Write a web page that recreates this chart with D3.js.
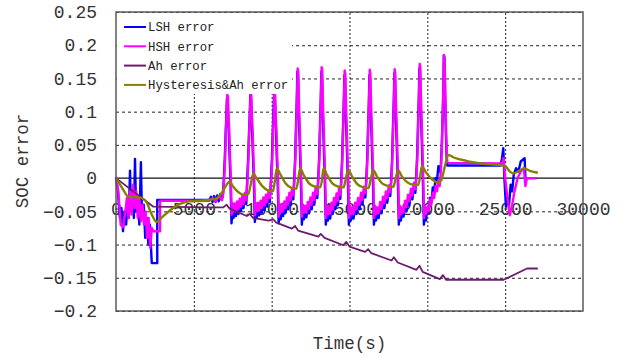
<!DOCTYPE html>
<html>
<head>
<meta charset="utf-8">
<script src="https://cdn.jsdelivr.net/npm/d3@7"></script>
<style>
  html, body { margin: 0; padding: 0; background: #fff; }
  svg { display: block; }
</style>
</head>
<body>
<svg id="chart" width="621" height="358"></svg>
<script>
const xTicks = [0, 5000, 10000, 15000, 20000, 25000, 30000];
const yTicks = [-0.2, -0.15, -0.1, -0.05, 0, 0.05, 0.1, 0.15, 0.2, 0.25];
const seriesNames = ["LSH error", "HSH error", "Ah error", "Hysteresis&Ah error"];

// [time (s), SOC error]
const lshErr = [
  [0, 0.0], [120, -0.02], [250, -0.06], [350, -0.045], [450, -0.08], [550, -0.05], [650, -0.07], [750, -0.035],
  [820, -0.06], [900, 0.011], [960, -0.05], [1060, -0.02], [1150, -0.06], [1220, 0.029], [1290, -0.05], [1400, -0.035],
  [1500, -0.07], [1600, 0.024], [1670, -0.06], [1780, -0.04], [1880, -0.09], [1980, -0.06], [2080, -0.1], [2180, -0.07],
  [2280, -0.12], [2300, -0.128], [2650, -0.128], [2650, -0.033], [6000, -0.033], [6100, -0.028], [6200, -0.036],
  [6300, -0.027], [6400, -0.036], [6500, -0.026], [6600, -0.035], [6700, -0.024], [6800, -0.033], [6880, -0.022],
  [6930, 0.0], [6990, 0.03], [7040, 0.065], [7090, 0.095], [7130, 0.12], [7170, 0.116], [7210, 0.09], [7260, 0.06],
  [7310, 0.025], [7360, -0.01], [7420, -0.068], [7490, -0.045], [7550, -0.06],
  [7620, -0.045], [7700, -0.057], [7780, -0.042], [7860, -0.054], [7950, -0.038], [8030, -0.05], [8110, -0.033],
  [8190, -0.045], [8280, -0.028], [8370, -0.039],
  [8430, 0.0], [8490, 0.03], [8540, 0.065], [8590, 0.095], [8630, 0.125], [8670, 0.12], [8710, 0.09], [8760, 0.06],
  [8810, 0.025], [8860, -0.01], [8920, -0.066], [8990, -0.045], [9050, -0.06],
  [9120, -0.044], [9200, -0.056], [9290, -0.041], [9370, -0.052], [9460, -0.036], [9540, -0.048], [9630, -0.031],
  [9710, -0.043], [9800, -0.025], [9880, -0.036],
  [9960, 0.0], [10020, 0.03], [10070, 0.07], [10120, 0.1], [10160, 0.132], [10200, 0.127], [10240, 0.095],
  [10290, 0.06], [10340, 0.025], [10390, -0.01], [10450, -0.068], [10520, -0.046], [10580, -0.062],
  [10650, -0.047], [10730, -0.057], [10810, -0.042], [10890, -0.052], [10980, -0.036], [11060, -0.047],
  [11140, -0.029], [11220, -0.04], [11310, -0.021], [11390, -0.032],
  [11450, 0.0], [11510, 0.03], [11560, 0.075], [11610, 0.115], [11650, 0.16], [11690, 0.155], [11730, 0.11],
  [11780, 0.07], [11830, 0.03], [11880, -0.01], [11940, -0.07], [12010, -0.048], [12070, -0.062],
  [12150, -0.049], [12230, -0.059], [12320, -0.043], [12400, -0.053], [12490, -0.036], [12570, -0.047],
  [12660, -0.029], [12740, -0.04], [12830, -0.019], [12930, -0.03],
  [12990, 0.0], [13050, 0.03], [13100, 0.075], [13150, 0.115], [13190, 0.16], [13230, 0.155], [13270, 0.11],
  [13320, 0.07], [13370, 0.03], [13420, -0.01], [13480, -0.07], [13550, -0.048], [13610, -0.064],
  [13680, -0.051], [13760, -0.061], [13840, -0.044], [13920, -0.054], [14000, -0.037], [14080, -0.047],
  [14170, -0.03], [14250, -0.041], [14330, -0.021], [14410, -0.031],
  [14470, 0.0], [14530, 0.03], [14580, 0.075], [14630, 0.11], [14670, 0.155], [14710, 0.15], [14750, 0.105],
  [14800, 0.07], [14850, 0.03], [14900, -0.01], [14960, -0.07], [15030, -0.048], [15090, -0.064],
  [15170, -0.051], [15260, -0.061], [15360, -0.044], [15450, -0.054], [15550, -0.037], [15640, -0.047],
  [15740, -0.029], [15830, -0.04], [15930, -0.019], [16020, -0.029],
  [16080, 0.0], [16140, 0.03], [16190, 0.075], [16240, 0.11], [16280, 0.155], [16320, 0.15], [16360, 0.105],
  [16410, 0.07], [16460, 0.03], [16510, -0.01], [16570, -0.07], [16640, -0.048], [16700, -0.064],
  [16780, -0.051], [16870, -0.06], [16970, -0.043], [17060, -0.053], [17150, -0.035], [17240, -0.045],
  [17340, -0.027], [17430, -0.037], [17530, -0.017], [17620, -0.027],
  [17680, 0.0], [17740, 0.03], [17790, 0.075], [17840, 0.112], [17880, 0.158], [17920, 0.153], [17960, 0.108],
  [18010, 0.07], [18060, 0.03], [18110, -0.01], [18170, -0.07], [18240, -0.048], [18300, -0.064],
  [18380, -0.05], [18470, -0.058], [18570, -0.04], [18660, -0.05], [18760, -0.031], [18850, -0.041],
  [18950, -0.022], [19040, -0.032], [19140, -0.012], [19230, -0.022],
  [19290, 0.005], [19350, 0.035], [19400, 0.08], [19450, 0.12], [19490, 0.165], [19530, 0.16], [19570, 0.115],
  [19620, 0.075], [19670, 0.035], [19720, -0.01], [19780, -0.07], [19850, -0.048], [19910, -0.064],
  [19990, -0.046], [20080, -0.052], [20170, -0.03], [20260, -0.036], [20350, -0.014], [20440, -0.02],
  [20530, 0.0], [20620, -0.004], [20710, 0.018], [20790, 0.01],
  [20870, 0.02], [20930, 0.05], [20980, 0.09], [21030, 0.13], [21060, 0.185], [21100, 0.18], [21140, 0.125],
  [21190, 0.07], [21240, 0.03], [21280, 0.019], [21400, 0.019], [24700, 0.019], [24800, 0.03], [24880, 0.045],
  [24950, 0.0], [25050, -0.043], [25150, -0.03], [25250, -0.04], [25350, -0.01], [25450, -0.02], [25550, 0.005],
  [25700, 0.015], [25850, 0.01], [26000, 0.025], [26150, 0.028], [26250, 0.03], [26300, 0.0], [26350, 0.0],
  [27000, 0.0]
];

const hshErr = [
  [0, 0.002], [150, -0.02], [300, -0.07], [450, -0.074], [600, -0.05], [700, -0.03], [800, -0.06], [900, -0.02],
  [1000, -0.055], [1100, -0.01], [1200, -0.045], [1300, -0.02], [1400, -0.06], [1500, -0.03], [1600, -0.065],
  [1700, -0.04], [1800, -0.07], [1900, -0.05], [2000, -0.09], [2100, -0.06], [2200, -0.105], [2300, -0.075],
  [2400, -0.08], [2830, -0.08], [2830, -0.034], [6000, -0.034], [6200, -0.03], [6400, -0.035], [6600, -0.027],
  [6800, -0.033], [6880, -0.025],
  [6950, 0.0], [7010, 0.03], [7060, 0.07], [7110, 0.1], [7150, 0.126], [7190, 0.122], [7230, 0.095], [7280, 0.07],
  [7330, 0.03], [7380, 0.0], [7430, -0.055], [7500, -0.038], [7560, -0.05],
  [7620, -0.038], [7700, -0.05], [7780, -0.035], [7860, -0.047], [7950, -0.031], [8030, -0.043], [8110, -0.027],
  [8190, -0.039], [8280, -0.022], [8370, -0.033],
  [8450, 0.0], [8510, 0.03], [8560, 0.07], [8610, 0.1], [8650, 0.129], [8690, 0.125], [8730, 0.095], [8780, 0.07],
  [8830, 0.03], [8880, 0.0], [8930, -0.056], [9000, -0.038], [9060, -0.05],
  [9120, -0.037], [9200, -0.049], [9290, -0.034], [9370, -0.045], [9460, -0.029], [9540, -0.041], [9630, -0.025],
  [9710, -0.036], [9800, -0.019], [9880, -0.03],
  [9980, 0.0], [10040, 0.03], [10090, 0.07], [10140, 0.1], [10180, 0.13], [10220, 0.126], [10260, 0.095],
  [10310, 0.07], [10360, 0.03], [10410, 0.0], [10460, -0.058], [10530, -0.04], [10590, -0.052],
  [10650, -0.04], [10730, -0.05], [10810, -0.035], [10890, -0.045], [10980, -0.029], [11060, -0.04],
  [11140, -0.022], [11220, -0.033], [11310, -0.015], [11390, -0.026],
  [11470, 0.0], [11530, 0.035], [11580, 0.08], [11630, 0.12], [11670, 0.165], [11710, 0.16], [11750, 0.115],
  [11800, 0.08], [11850, 0.035], [11900, 0.0], [11950, -0.058], [12020, -0.04], [12080, -0.052],
  [12150, -0.042], [12230, -0.052], [12320, -0.036], [12400, -0.046], [12490, -0.029], [12570, -0.04],
  [12660, -0.022], [12740, -0.033], [12830, -0.013], [12930, -0.024],
  [13010, 0.0], [13070, 0.035], [13120, 0.08], [13170, 0.12], [13210, 0.167], [13250, 0.162], [13290, 0.115],
  [13340, 0.08], [13390, 0.035], [13440, 0.0], [13490, -0.06], [13560, -0.042], [13620, -0.054],
  [13680, -0.044], [13760, -0.054], [13840, -0.037], [13920, -0.047], [14000, -0.03], [14080, -0.04],
  [14170, -0.023], [14250, -0.034], [14330, -0.015], [14410, -0.025],
  [14490, 0.0], [14550, 0.035], [14600, 0.08], [14650, 0.12], [14690, 0.162], [14730, 0.157], [14770, 0.115],
  [14820, 0.08], [14870, 0.035], [14920, 0.0], [14970, -0.06], [15040, -0.042], [15100, -0.054],
  [15170, -0.044], [15260, -0.054], [15360, -0.037], [15450, -0.047], [15550, -0.03], [15640, -0.04],
  [15740, -0.022], [15830, -0.033], [15930, -0.013], [16020, -0.023],
  [16100, 0.0], [16160, 0.035], [16210, 0.08], [16260, 0.12], [16300, 0.163], [16340, 0.158], [16380, 0.115],
  [16430, 0.08], [16480, 0.035], [16530, 0.0], [16580, -0.06], [16650, -0.042], [16710, -0.054],
  [16780, -0.044], [16870, -0.053], [16970, -0.036], [17060, -0.046], [17150, -0.028], [17240, -0.038],
  [17340, -0.02], [17430, -0.03], [17530, -0.011], [17620, -0.021],
  [17700, 0.0], [17760, 0.035], [17810, 0.08], [17860, 0.12], [17900, 0.164], [17940, 0.159], [17980, 0.115],
  [18030, 0.08], [18080, 0.035], [18130, 0.0], [18180, -0.06], [18250, -0.042], [18310, -0.054],
  [18380, -0.044], [18470, -0.052], [18570, -0.034], [18660, -0.044], [18760, -0.025], [18850, -0.035],
  [18950, -0.016], [19040, -0.026], [19140, -0.007], [19230, -0.017],
  [19310, 0.005], [19370, 0.04], [19420, 0.085], [19470, 0.125], [19510, 0.172], [19550, 0.167], [19590, 0.12],
  [19640, 0.085], [19690, 0.04], [19740, 0.0], [19790, -0.06], [19860, -0.042], [19920, -0.054],
  [19990, -0.044], [20080, -0.05], [20170, -0.032], [20260, -0.04], [20350, -0.022], [20440, -0.03],
  [20530, -0.012], [20620, -0.02], [20710, -0.004], [20790, -0.012],
  [20870, 0.01], [20930, 0.045], [20980, 0.09], [21030, 0.135], [21070, 0.185], [21110, 0.18], [21150, 0.13],
  [21200, 0.08], [21240, 0.04], [21280, 0.024], [21400, 0.023], [24800, 0.022], [24900, 0.03], [25000, 0.0],
  [25150, -0.03], [25300, -0.056], [25450, -0.04], [25600, -0.02], [25800, 0.0], [26000, 0.01], [26200, 0.015],
  [26300, -0.012], [26400, 0.0], [27000, 0.0]
];

const ahErr = [
  [0, 0.0], [2400, -0.043], [6000, -0.044], [6900, -0.044], [7100, -0.04], [7300, -0.046], [8400, -0.057],
  [8600, -0.054], [8800, -0.06], [9800, -0.064], [10100, -0.062], [10300, -0.067], [11300, -0.076], [11500, -0.072],
  [11700, -0.079], [13000, -0.088], [13150, -0.084], [13400, -0.09], [14600, -0.101], [14800, -0.096],
  [15000, -0.103], [16000, -0.111], [16200, -0.107], [16400, -0.113], [17700, -0.124], [17850, -0.119],
  [18100, -0.127], [19300, -0.138], [19500, -0.132], [19700, -0.141], [20800, -0.152], [21000, -0.146],
  [21200, -0.153], [24900, -0.153], [26400, -0.136], [27100, -0.136]
];

const hystAhErr = [
  [0, 0.0], [400, -0.015], [800, -0.028], [1500, -0.029], [1900, -0.034], [2300, -0.055], [2600, -0.066],
  [3000, -0.058], [3500, -0.048], [4200, -0.038], [4700, -0.035], [5500, -0.034], [6200, -0.032], [6500, -0.03],
  [6800, -0.022], [7050, -0.012], [7300, -0.005], [7500, -0.012], [7800, -0.02], [8200, -0.025], [8500, -0.024],
  [8650, -0.01], [8820, 0.007], [9000, 0.001], [9400, -0.012], [9800, -0.019], [10080, -0.02], [10200, -0.005],
  [10330, 0.015], [10550, 0.006], [10900, -0.008], [11300, -0.015], [11580, -0.016], [11700, -0.003],
  [11830, 0.014], [12050, 0.005], [12400, -0.008], [12800, -0.013], [13120, -0.014], [13230, -0.003],
  [13330, 0.015], [13550, 0.005], [13900, -0.008], [14300, -0.013], [14620, -0.014], [14740, -0.003],
  [14920, 0.012], [15150, 0.003], [15500, -0.009], [15900, -0.014], [16220, -0.015], [16350, -0.003],
  [16530, 0.012], [16750, 0.003], [17100, -0.008], [17500, -0.012], [17820, -0.013], [17950, -0.002],
  [18130, 0.012], [18350, 0.003], [18700, -0.006], [19100, -0.01], [19420, -0.01], [19540, 0.003],
  [19650, 0.018], [19900, 0.009], [20300, -0.002], [20700, -0.007], [20900, -0.003], [21100, 0.015],
  [21350, 0.035], [21700, 0.031], [22500, 0.026], [23500, 0.022], [24800, 0.019], [25000, 0.018],
  [25300, 0.01], [25500, 0.007], [25900, 0.011], [26200, 0.0146], [26600, 0.011], [27100, 0.008]
];

const svgElement = document.getElementById("chart");
const margin = { top: 12, right: 38, bottom: 47, left: 116 },
  width = 621 - margin.left - margin.right,
  height = 358 - margin.top - margin.bottom;

const svg = d3.select(svgElement);
const monoFont = "'Liberation Mono', 'DejaVu Sans Mono', monospace";

const xScale = d3.scaleLinear().domain([0, 30000]).range([0, width]);
const yScale = d3.scaleLinear().domain([-0.2, 0.25]).range([height, 0]);

const content = svg
  .append("g")
  .attr("transform", `translate(${margin.left},${margin.top})`);

// Grid
content
  .append("g")
  .attr("class", "grid grid--y")
  .call(
    d3
      .axisLeft(yScale)
      .tickValues(yTicks.filter((d) => d !== 0))
      .tickSize(-width)
      .tickFormat(() => ""),
  )
  .call((g) => g.select(".domain").remove())
  .selectAll("line")
  .attr("stroke", "#222")
  .attr("stroke-width", 1)
  .attr("stroke-dasharray", "3,3");
content
  .append("g")
  .attr("class", "grid grid--x")
  .attr("transform", `translate(0,${height})`)
  .call(
    d3
      .axisBottom(xScale)
      .tickValues(xTicks.slice(1, -1))
      .tickSize(-height)
      .tickFormat(() => ""),
  )
  .call((g) => g.select(".domain").remove())
  .selectAll("line")
  .attr("stroke", "#222")
  .attr("stroke-width", 1)
  .attr("stroke-dasharray", "2,2");

// Axes
const yAxis = content
  .append("g")
  .attr("class", "axis axis--y")
  .call(
    d3
      .axisLeft(yScale)
      .tickValues(yTicks)
      .tickSize(0)
      .tickPadding(19)
      .tickFormat((d) => String(d).replace("-", "\u2212")),
  );
yAxis.select(".domain").remove();
yAxis
  .selectAll("text")
  .attr("font-family", monoFont)
  .attr("font-size", 18)
  .attr("fill", "#333");

const xAxis = content
  .append("g")
  .attr("class", "axis axis--x")
  .attr("transform", `translate(0,${yScale(0)})`)
  .call(
    d3
      .axisBottom(xScale)
      .tickValues(xTicks)
      .tickSize(0)
      .tickPadding(24)
      .tickFormat((d) => String(d)),
  );
xAxis.select(".domain").remove();
xAxis
  .selectAll("text")
  .attr("font-family", monoFont)
  .attr("font-size", 18)
  .attr("fill", "#333");

// Zero line
content
  .append("line")
  .attr("x1", 0)
  .attr("x2", width)
  .attr("y1", yScale(0))
  .attr("y2", yScale(0))
  .attr("stroke", "#111")
  .attr("stroke-width", 1.2);

// Data layers
const colors = ["#0000ff", "#ff00ff", "#6e1a6e", "#858000"];
const widths = [2.4, 2.4, 1.8, 2.4];

const line = d3
  .line()
  .x((d) => xScale(d[0]))
  .y((d) => yScale(d[1]));
const smoothLine = d3
  .line()
  .x((d) => xScale(d[0]))
  .y((d) => yScale(d[1]))
  .curve(d3.curveMonotoneX);

const allSeries = [lshErr, hshErr, ahErr, hystAhErr];
content
  .selectAll(".line")
  .data(allSeries)
  .join("path")
  .attr("class", "line")
  .attr("d", (d, i) => (i === 3 ? smoothLine(d) : line(d)))
  .style("fill", "none")
  .style("stroke", (_d, i) => colors[i])
  .style("stroke-width", (_d, i) => widths[i])
  .style("stroke-linejoin", "round");

// Legend
const legend = content.append("g").attr("class", "legend");
legend
  .append("rect")
  .attr("x", 1)
  .attr("y", 1)
  .attr("width", 175)
  .attr("height", 81)
  .attr("fill", "#fff");
const items = legend
  .selectAll(".item")
  .data(seriesNames)
  .join("g")
  .attr("class", "item")
  .attr("transform", (_d, i) => `translate(8,${15 + i * 19.3})`);
items
  .append("line")
  .attr("x1", 0)
  .attr("x2", 22)
  .attr("stroke", (_d, i) => colors[i])
  .attr("stroke-width", 2);
items
  .append("text")
  .attr("x", 24)
  .attr("dy", "0.35em")
  .attr("font-family", monoFont)
  .attr("font-size", 12.3)
  .attr("fill", "#222")
  .text((d) => d);

// Frame
content
  .append("rect")
  .attr("width", width)
  .attr("height", height)
  .attr("fill", "none")
  .attr("stroke", "#5a5a5a")
  .attr("stroke-width", 1.5);

// Axis titles
svg
  .append("text")
  .attr("x", margin.left + width / 2)
  .attr("y", 349)
  .attr("text-anchor", "middle")
  .attr("font-family", monoFont)
  .attr("font-size", 17.5)
  .attr("fill", "#333")
  .text("Time(s)");
svg
  .append("text")
  .attr("transform", "translate(28,161) rotate(-90)")
  .attr("text-anchor", "middle")
  .attr("font-family", monoFont)
  .attr("font-size", 17.5)
  .attr("fill", "#333")
  .text("SOC error");
</script>
</body>
</html>
